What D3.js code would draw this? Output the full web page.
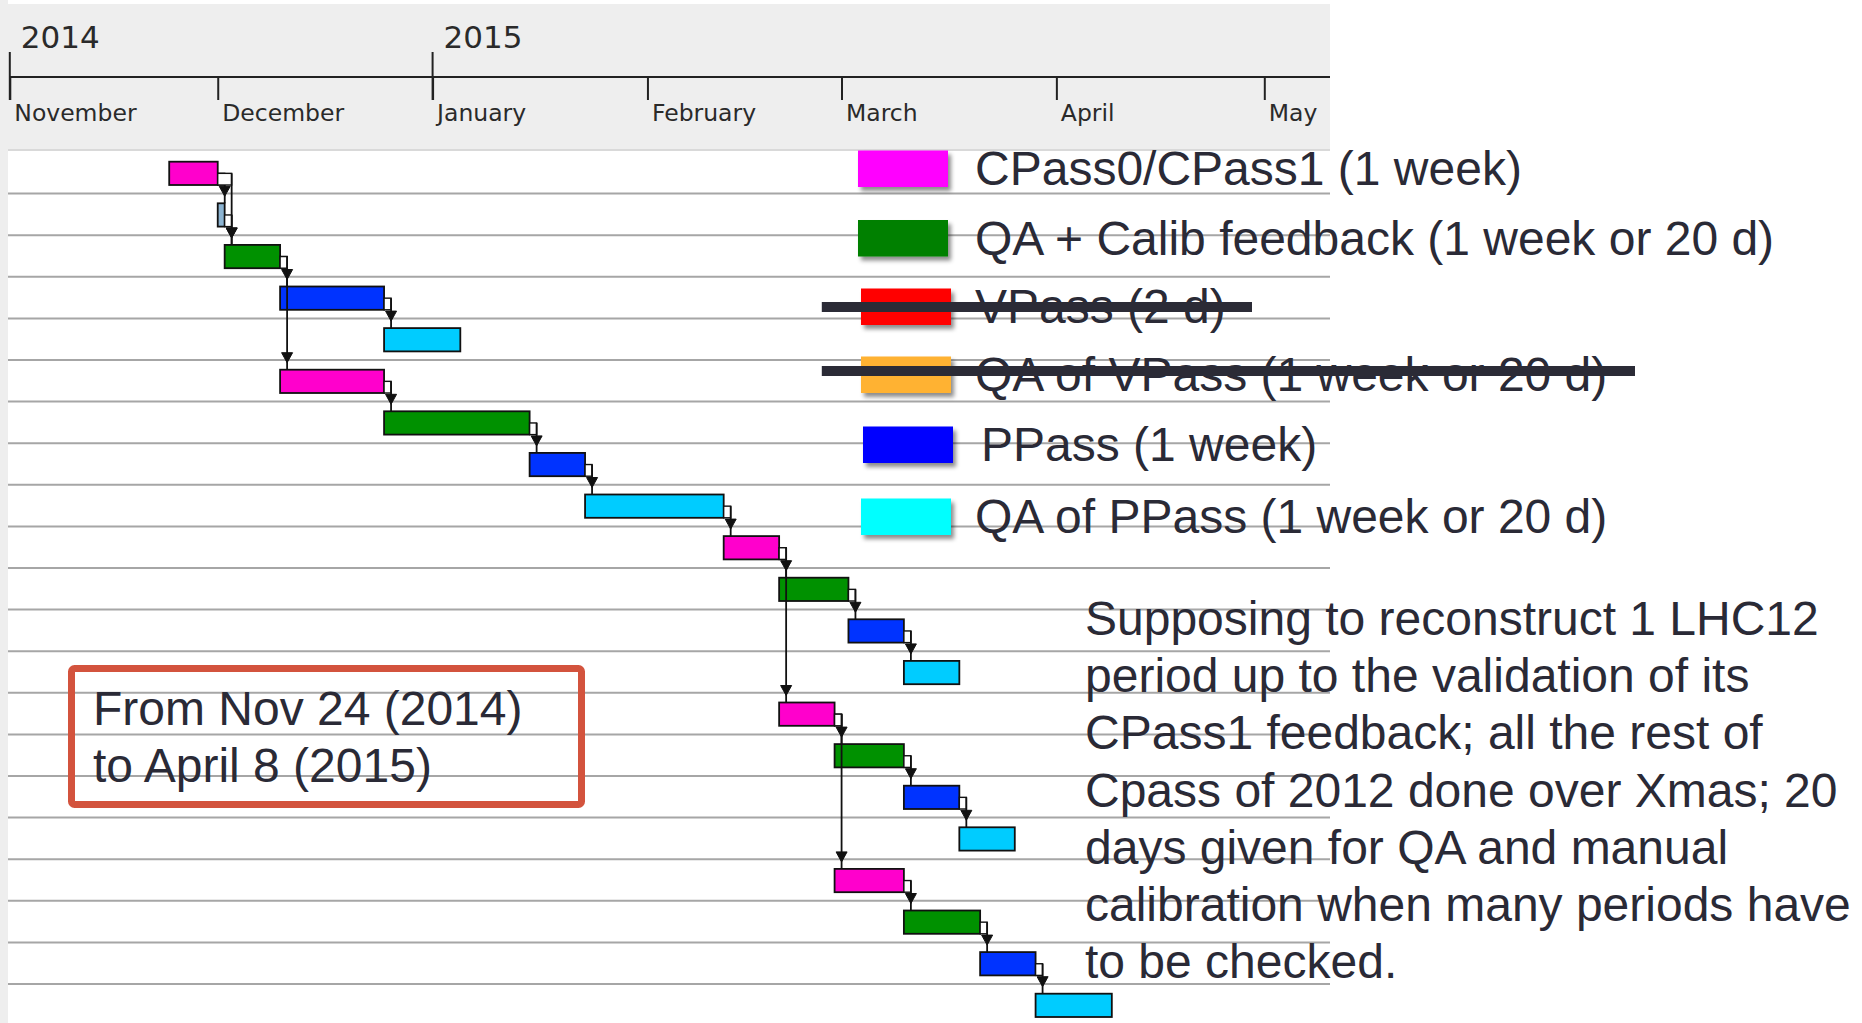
<!DOCTYPE html>
<html>
<head>
<meta charset="utf-8">
<title>LHC12 reconstruction schedule</title>
<script src="https://cdn.jsdelivr.net/npm/d3@7"></script>
<style>
  html, body { margin: 0; padding: 0; background: #fff; }
  svg { display: block; }
  .hdr text { font-family: "DejaVu Sans", sans-serif; fill: #2a2a2a; }
  .note { font-family: "Liberation Sans", Arial, sans-serif; font-size: 48px; fill: #2a2a36; }
</style>
</head>
<body>
<div id="chart"></div>
<script>
// Gantt schedule: CPass / QA / PPass chain for one LHC12 period
const W = 1862, H = 1023;

// ---- data ----
const taskType = ["cpass", "gap", "qa", "ppass", "qapp", "cpass", "qa", "ppass", "qapp",
  "cpass", "qa", "ppass", "qapp", "cpass", "qa", "ppass", "qapp", "cpass", "qa", "ppass", "qapp"];
const taskStart = ["2014-11-24", "2014-12-01", "2014-12-02", "2014-12-10", "2014-12-25", "2014-12-10",
  "2014-12-25", "2015-01-15", "2015-01-23", "2015-02-12", "2015-02-20", "2015-03-02", "2015-03-10",
  "2015-02-20", "2015-02-28", "2015-03-10", "2015-03-18", "2015-02-28", "2015-03-10", "2015-03-21", "2015-03-29"];
const taskEnd = ["2014-12-01", "2014-12-02", "2014-12-10", "2014-12-25", "2015-01-05", "2014-12-25",
  "2015-01-15", "2015-01-23", "2015-02-12", "2015-02-20", "2015-03-02", "2015-03-10", "2015-03-18",
  "2015-02-28", "2015-03-10", "2015-03-18", "2015-03-26", "2015-03-10", "2015-03-21", "2015-03-29", "2015-04-09"];
// dependencies (predecessor -> successor, by row index)
const depFrom = [0, 0, 1, 2, 2, 3, 5, 6, 7, 8, 9, 9, 10, 11, 13, 13, 14, 15, 17, 18, 19];
const depTo   = [1, 2, 2, 3, 5, 4, 6, 7, 8, 9, 10, 13, 11, 12, 14, 17, 15, 16, 18, 19, 20];

const monthTicks = ["2014-11-01", "2014-12-01", "2015-01-01", "2015-02-01", "2015-03-01", "2015-04-01", "2015-05-01"];
const yearTicks = ["2014-11-01", "2015-01-01"];
const yearLabels = ["2014", "2015"];

const legendLabels = ["CPass0/CPass1 (1 week)", "QA + Calib feedback (1 week or 20 d)", "VPass (2 d)",
  "QA of VPass (1 week or 20 d)", "PPass (1 week)", "QA of PPass (1 week or 20 d)"];
const legendColors = ["#ff00ff", "#008000", "#ff0000", "#ffb233", "#0000ff", "#00ffff"];
const legendStruck = [false, false, true, true, false, false];

const rangeLines = ["From Nov 24 (2014)", "to April 8 (2015)"];
const noteLines = ["Supposing to reconstruct 1 LHC12", "period up to the validation of its",
  "CPass1 feedback; all the rest of", "Cpass of 2012 done over Xmas; 20",
  "days given for QA and manual", "calibration when many periods have", "to be checked."];

const barColor = { cpass: "#ff00cc", qa: "#009100", ppass: "#0033ff", qapp: "#00ccff", gap: "#8cb4d2" };

// ---- layout ----
const parse = d3.utcParse("%Y-%m-%d");
const plotRight = 1330, hdrBottom = 150, axisY = 77;

const x = d3.scaleUtc()
  .domain([parse("2014-11-01"), parse("2015-05-01")])
  .range([9.8, 1264.3]);

const rowStep = 41.6;
const y = d3.scaleBand()
  .domain(d3.range(taskType.length))
  .range([152, 152 + rowStep * taskType.length])
  .padding(0);
const barOff = 9.7, barH = 23.3;

const svg = d3.select("#chart").append("svg")
  .attr("width", W).attr("height", H)
  .attr("viewBox", `0 0 ${W} ${H}`);

const defs = svg.append("defs");
const sh = defs.append("filter").attr("id", "shadow")
  .attr("x", "-20%").attr("y", "-20%").attr("width", "150%").attr("height", "160%");
sh.append("feDropShadow").attr("dx", 3).attr("dy", 4).attr("stdDeviation", 2.2)
  .attr("flood-color", "#000").attr("flood-opacity", 0.45);

// header band + left strip
svg.append("rect").attr("x", 0).attr("y", 4).attr("width", plotRight).attr("height", hdrBottom - 4).attr("fill", "#eeeeee");
svg.append("rect").attr("x", 0).attr("y", 0).attr("width", 8).attr("height", H).attr("fill", "#eeeeee");
svg.append("line").attr("x1", 8).attr("x2", plotRight).attr("y1", hdrBottom).attr("y2", hdrBottom)
  .attr("stroke", "#d9d9d9").attr("stroke-width", 2);

// row grid lines
svg.append("g").attr("class", "grid")
  .selectAll("line")
  .data(d3.range(taskType.length - 1))
  .join("line")
  .attr("x1", 8).attr("x2", plotRight)
  .attr("y1", i => y(i) + y.bandwidth())
  .attr("y2", i => y(i) + y.bandwidth())
  .attr("stroke", "#a6a6a6").attr("stroke-width", 2);

// timeline header
const hdr = svg.append("g").attr("class", "hdr");
const monthAxis = d3.axisBottom(x)
  .tickValues(monthTicks.map(parse))
  .tickSize(23)
  .tickFormat(d3.utcFormat("%B"));
const axG = hdr.append("g").attr("transform", `translate(0,${axisY})`).call(monthAxis);
axG.select(".domain").remove();
axG.selectAll(".tick line").attr("stroke", "#222").attr("stroke-width", 2);
axG.selectAll(".tick text")
  .attr("text-anchor", "start").attr("x", 4).attr("y", 44).attr("dy", null)
  .style("font-size", "23.5px").style("font-family", "DejaVu Sans").attr("fill", "#222");
hdr.append("line")
  .attr("x1", x(parse("2014-11-01"))).attr("x2", plotRight)
  .attr("y1", axisY).attr("y2", axisY)
  .attr("stroke", "#222").attr("stroke-width", 2);
const yrs = hdr.selectAll("g.yr").data(yearTicks).join("g").attr("class", "yr")
  .attr("transform", d => `translate(${x(parse(d))},0)`);
yrs.append("line").attr("y1", 52).attr("y2", 100).attr("stroke", "#222").attr("stroke-width", 2);
yrs.append("text").attr("x", 11).attr("y", 48)
  .style("font-size", "31px").attr("fill", "#333")
  .text((d, i) => yearLabels[i]);

// bars
svg.append("g").attr("class", "bars")
  .selectAll("rect")
  .data(d3.range(taskType.length))
  .join("rect")
  .attr("x", i => x(parse(taskStart[i])))
  .attr("y", i => y(i) + barOff)
  .attr("width", i => x(parse(taskEnd[i])) - x(parse(taskStart[i])))
  .attr("height", barH)
  .attr("fill", i => barColor[taskType[i]])
  .attr("stroke", "#111").attr("stroke-width", 1.8);

// dependency connectors
const deps = depFrom.map((a, k) => ({ a, b: depTo[k] }));
const depG = svg.append("g").attr("class", "deps");
deps.forEach(({ a, b }) => {
  const ex = x(parse(taskEnd[a]));
  const ax = Math.max(ex, x(parse(taskStart[b]))) + 7;
  const yMid = y(a) + barOff + barH / 2;
  const yBot = y(a) + barOff + barH;
  const yTop = y(b) + barOff;
  depG.append("rect")
    .attr("x", ex).attr("y", yMid).attr("width", ax - ex).attr("height", yBot - yMid)
    .attr("fill", "#fff").attr("stroke", "#111").attr("stroke-width", 1.4);
  depG.append("line")
    .attr("x1", ax).attr("x2", ax).attr("y1", yMid).attr("y2", yTop)
    .attr("stroke", "#111").attr("stroke-width", 1.8);
  depG.append("path")
    .attr("d", `M${ax - 5.5},${yTop - 17} L${ax + 5.5},${yTop - 17} L${ax},${yTop - 7} Z`)
    .attr("fill", "#111").attr("stroke", "#111").attr("stroke-width", 1);
});

// legend
const legTop = [150.5, 220, 288.5, 356.5, 426.5, 498.5];
const legX = [858, 858, 861, 861, 863, 861];
const legG = svg.append("g").attr("class", "legend");
const items = legG.selectAll("g").data(legendLabels).join("g")
  .attr("transform", (d, i) => `translate(${legX[i]},${legTop[i]})`);
items.append("rect")
  .attr("width", 90).attr("height", 36.5)
  .attr("fill", (d, i) => legendColors[i])
  .attr("filter", "url(#shadow)");
items.append("text").attr("class", "note")
  .attr("x", (d, i) => i === 4 ? 118 : 117 - (legX[i] - 858))
  .attr("y", 34.5)
  .text(d => d);
// strike-through of dropped steps (VPass row is struck lower and shorter)
const strikeEnd = { "VPass (2 d)": 1252, "QA of VPass (1 week or 20 d)": 1635 };
const strikeY = { "VPass (2 d)": 18.5, "QA of VPass (1 week or 20 d)": 14.5 };
items.filter((d, i) => legendStruck[i])
  .append("line")
  .attr("x1", 821.8 - 861)
  .attr("x2", d => strikeEnd[d] - 861)
  .attr("y1", d => strikeY[d])
  .attr("y2", d => strikeY[d])
  .attr("stroke", "#2b2b36").attr("stroke-width", 10);

// date range box
svg.append("rect")
  .attr("x", 71.5).attr("y", 668.5).attr("width", 510).attr("height", 136)
  .attr("rx", 3).attr("fill", "none")
  .attr("stroke", "#d3533d").attr("stroke-width", 7);
svg.append("g").selectAll("text").data(rangeLines).join("text")
  .attr("class", "note")
  .attr("x", 93).attr("y", (d, i) => 725 + i * 57)
  .text(d => d);

// explanation text
svg.append("g").selectAll("text").data(noteLines).join("text")
  .attr("class", "note")
  .attr("x", 1085).attr("y", (d, i) => 635 + i * 57.2)
  .text(d => d);
</script>
</body>
</html>
